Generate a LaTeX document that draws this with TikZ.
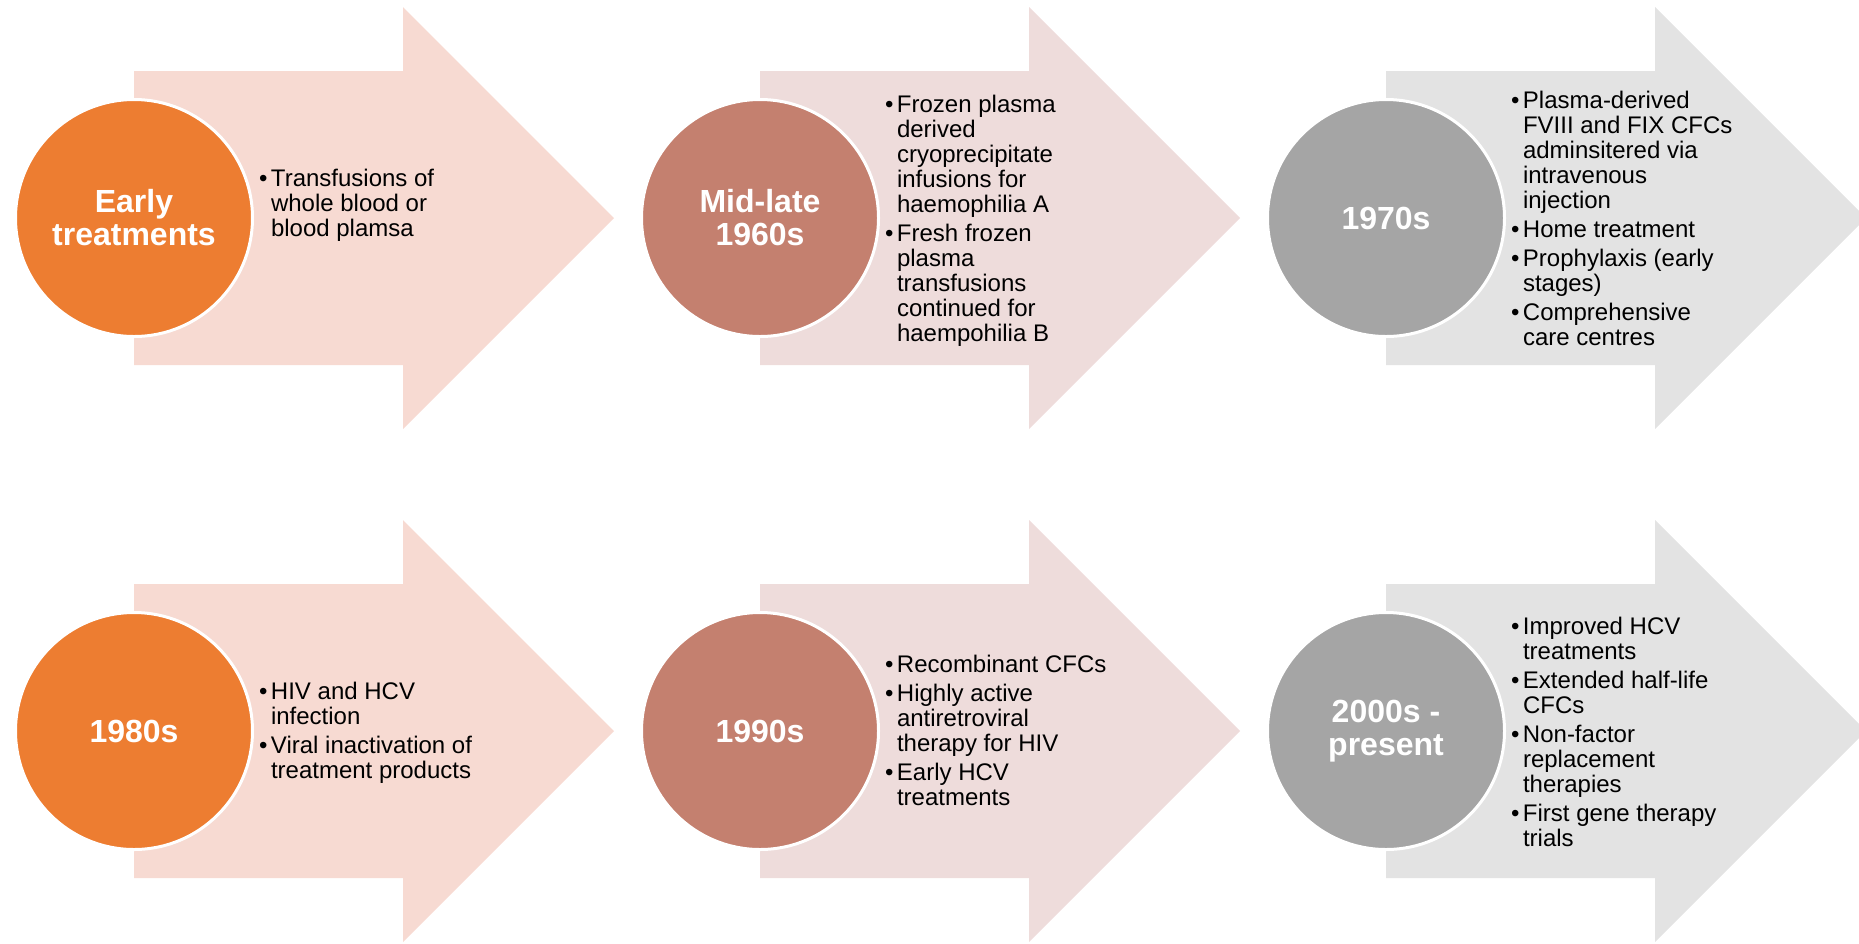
\documentclass[tikz,border=0pt]{standalone}
\usepackage{fontspec}
\setmainfont{Liberation Sans}
\usetikzlibrary{positioning}

\definecolor{orangeDisc}{HTML}{ED7D31}
\definecolor{orangeBand}{HTML}{F7DAD2}
\definecolor{roseDisc}{HTML}{C4806F}
\definecolor{roseBand}{HTML}{EEDCDB}
\definecolor{greyDisc}{HTML}{A5A5A5}
\definecolor{greyBand}{HTML}{E3E3E3}

% block arrow: #1 colour, #2 left x, #3 axis y
\newcommand{\tlarrow}[3]{%
  \fill[#1] ({#2},{#3-147}) -- ({#2+269},{#3-147}) -- ({#2+269},{#3-211})
    -- ({#2+480},{#3}) -- ({#2+269},{#3+211}) -- ({#2+269},{#3+147})
    -- ({#2},{#3+147}) -- cycle;}
% bullet marker with fixed width
\newcommand{\bl}{\makebox[6pt][l]{\textbullet}}

\tikzset{
  disc/.style={circle, draw=white, line width=1.5pt, minimum size=118.5pt,
    inner sep=0pt, text=white, font=\fontsize{16}{16.5}\selectfont\bfseries,
    align=center},
  bullets/.style={anchor=base west, inner sep=0pt, outer sep=0pt,
    font=\fontsize{12}{12.5}\selectfont, text=black},
}

\begin{document}
\begin{tikzpicture}[x=0.5pt, y=-0.5pt]
\useasboundingbox (0,0) rectangle (1859,943);

% arrows, top row
\tlarrow{orangeBand}{134}{218}
\tlarrow{roseBand}{760}{218}
\tlarrow{greyBand}{1386}{218}
% arrows, bottom row
\tlarrow{orangeBand}{134}{731}
\tlarrow{roseBand}{760}{731}
\tlarrow{greyBand}{1386}{731}

% period discs
\node[disc, fill=orangeDisc] (early) at (134,218) {Early\\treatments};
\node[disc, fill=roseDisc]   (sixties) at (760,218) {Mid-late\\1960s};
\node[disc, fill=greyDisc]   (seventies) at (1386,218) {1970s};
\node[disc, fill=orangeDisc] (eighties) at (134,731) {1980s};
\node[disc, fill=roseDisc]   (nineties) at (760,731) {1990s};
\node[disc, fill=greyDisc]   (present) at (1386,731) {2000s -\\present};

% bullet lists
\node[bullets] (t1) at (259,186) {\begin{tabular}[t]{@{}l@{}l@{}}
\bl & Transfusions of\\
    & whole blood or\\
    & blood plamsa
\end{tabular}};

\node[bullets] (t2) at (885,112) {\begin{tabular}[t]{@{}l@{}l@{}}
\bl & Frozen plasma\\
    & derived\\
    & cryoprecipitate\\
    & infusions for\\
    & haemophilia A\\[2pt]
\bl & Fresh frozen\\
    & plasma\\
    & transfusions\\
    & continued for\\
    & haempohilia B
\end{tabular}};

\node[bullets] (t3) at (1511,108) {\begin{tabular}[t]{@{}l@{}l@{}}
\bl & Plasma-derived\\
    & FVIII and FIX CFCs\\
    & adminsitered via\\
    & intravenous\\
    & injection\\[2pt]
\bl & Home treatment\\[2pt]
\bl & Prophylaxis (early\\
    & stages)\\[2pt]
\bl & Comprehensive\\
    & care centres
\end{tabular}};

\node[bullets] (b1) at (259,699) {\begin{tabular}[t]{@{}l@{}l@{}}
\bl & HIV and HCV\\
    & infection\\[2pt]
\bl & Viral inactivation of\\
    & treatment products
\end{tabular}};

\node[bullets] (b2) at (885,672) {\begin{tabular}[t]{@{}l@{}l@{}}
\bl & Recombinant CFCs\\[2pt]
\bl & Highly active\\
    & antiretroviral\\
    & therapy for HIV\\[2pt]
\bl & Early HCV\\
    & treatments
\end{tabular}};

\node[bullets] (b3) at (1511,634) {\begin{tabular}[t]{@{}l@{}l@{}}
\bl & Improved HCV\\
    & treatments\\[2pt]
\bl & Extended half-life\\
    & CFCs\\[2pt]
\bl & Non-factor\\
    & replacement\\
    & therapies\\[2pt]
\bl & First gene therapy\\
    & trials
\end{tabular}};
\end{tikzpicture}
\end{document}
